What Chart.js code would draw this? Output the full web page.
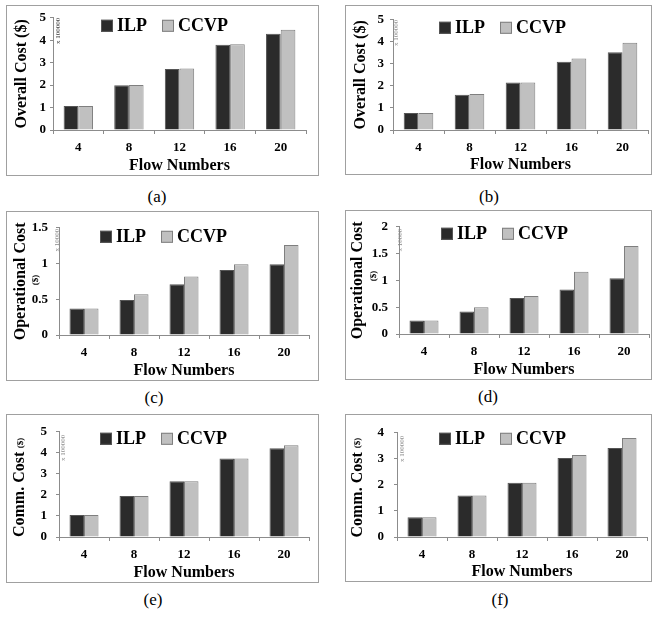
<!DOCTYPE html>
<html>
<head>
<meta charset="utf-8">
<title>Cost vs flow numbers</title>
<script src="https://cdn.jsdelivr.net/npm/chart.js@4.4.1/dist/chart.umd.min.js"></script>
<style>
  body { margin: 0; background: #fff; }
  .wrap { position: relative; width: 652px; height: 618px; overflow: hidden;
          font-family: "Liberation Serif", "Times New Roman", serif; }
  .frame { position: absolute; border: 1px solid #a0a0a0; box-sizing: border-box; }
  .frame canvas { position: absolute; left: 0; top: 0; }
  .cap { position: absolute; width: 60px; margin-left: -30px; margin-top: -10px;
         text-align: center; font-size: 17px; line-height: 20px; color: #000; }
</style>
</head>
<body>
<div class="wrap">
  <div class="frame" style="left:6px;top:5px;width:313px;height:171px"><canvas id="chartA" width="311" height="169"></canvas></div>
  <div class="frame" style="left:345px;top:5px;width:307px;height:170px"><canvas id="chartB" width="305" height="168"></canvas></div>
  <div class="frame" style="left:6px;top:211px;width:313px;height:170px"><canvas id="chartC" width="311" height="168"></canvas></div>
  <div class="frame" style="left:345px;top:210px;width:307px;height:170px"><canvas id="chartD" width="305" height="168"></canvas></div>
  <div class="frame" style="left:6px;top:414px;width:313px;height:169px"><canvas id="chartE" width="311" height="167"></canvas></div>
  <div class="frame" style="left:345px;top:414px;width:307px;height:168px"><canvas id="chartF" width="305" height="166"></canvas></div>

  <div class="cap" style="left:157px;top:197px">(a)</div>
  <div class="cap" style="left:489px;top:197px">(b)</div>
  <div class="cap" style="left:154px;top:398px">(c)</div>
  <div class="cap" style="left:488px;top:397px">(d)</div>
  <div class="cap" style="left:153px;top:600px">(e)</div>
  <div class="cap" style="left:500px;top:600px">(f)</div>
</div>

<script>
"use strict";

// data
var flowNumbers = ['4', '8', '12', '16', '20'];
var seriesNames = ['ILP', 'CCVP'];

var overallIlpA  = [1.07, 1.99, 2.72, 3.80, 4.29];
var overallCcvpA = [1.07, 2.01, 2.74, 3.82, 4.47];
var overallIlpB  = [0.77, 1.60, 2.15, 3.10, 3.53];
var overallCcvpB = [0.77, 1.63, 2.16, 3.24, 3.96];
var operIlpC     = [0.37, 0.49, 0.71, 0.91, 0.99];
var operCcvpC    = [0.37, 0.57, 0.82, 0.99, 1.26];
var operIlpD     = [0.25, 0.42, 0.67, 0.83, 1.04];
var operCcvpD    = [0.25, 0.50, 0.71, 1.16, 1.64];
var commIlpE     = [1.04, 1.95, 2.65, 3.73, 4.22];
var commCcvpE    = [1.04, 1.95, 2.65, 3.73, 4.36];
var commIlpF     = [0.76, 1.59, 2.08, 3.03, 3.42];
var commCcvpF    = [0.76, 1.59, 2.08, 3.15, 3.80];

var yMax  = [5, 5, 1.5, 2, 5, 4];
var yStep = [1, 1, 0.5, 0.5, 1, 1];
var yTitles = ['Overall Cost ($)', 'Overall Cost ($)', 'Operational Cost', 'Operational Cost', 'Comm. Cost', 'Comm. Cost'];
var unitNotes = ['', '', '($)', '($)', '($)', '($)'];
var multNotes = ['x 100000', 'x 100000', 'x 10000', 'x 10000', 'x 100000', 'x 100000'];
var xTitle = 'Flow Numbers';

// layout of each panel (canvas pixels)
// plot: [left, right, top, bottom]
var panels = [
  { id: 'chartA', ilp: overallIlpA, ccvp: overallCcvpA, plot: [46, 299, 11, 124], tickPad: 4,  titlePad: 5, spaces: 0, legend: [48, 8], mult: [5, 0], multColor: '#333', unit: null },
  { id: 'chartB', ilp: overallIlpB, ccvp: overallCcvpB, plot: [47, 302, 11, 124], tickPad: 6,  titlePad: 5, spaces: 0, legend: [46, 8], mult: [3, 0], multColor: '#8a8a8a', unit: null },
  { id: 'chartC', ilp: operIlpC,    ccvp: operCcvpC,    plot: [52, 302, 10, 123], tickPad: 8,  titlePad: 4, spaces: 0, legend: [41, 9], mult: [-2, 1], multColor: '#8a8a8a', unit: [29, 68] },
  { id: 'chartD', ilp: operIlpD,    ccvp: operCcvpD,    plot: [53, 303, 10, 123], tickPad: 8,  titlePad: 2, spaces: 0, legend: [42, 7], mult: [1, 2], multColor: '#8a8a8a', unit: [28, 65] },
  { id: 'chartE', ilp: commIlpE,    ccvp: commCcvpE,    plot: [52, 302, 10, 122], tickPad: 9,  titlePad: 3, spaces: 5, legend: [41, 7], mult: [4, 3], multColor: '#8a8a8a', unit: [14, 28] },
  { id: 'chartF', ilp: commIlpF,    ccvp: commCcvpF,    plot: [51, 301, 10, 122], tickPad: 10, titlePad: 2, spaces: 5, legend: [42, 6], mult: [5, 3], multColor: '#8a8a8a', unit: [12, 28] }
];

var serif = '"Liberation Serif", "Times New Roman", serif';
Chart.defaults.font.family = serif;
Chart.defaults.color = '#000';

// legend inside the plot, multiplier and small unit labels
var panelExtras = {
  id: 'panelExtras',
  afterDatasetsDraw: function (chart, args, opts) {
    var ctx = chart.ctx, area = chart.chartArea;
    ctx.save();

    // legend
    var x = area.left + opts.legend[0], cy = area.top + opts.legend[1];
    ctx.font = 'bold 18px ' + serif;
    ctx.textBaseline = 'middle';
    ctx.textAlign = 'left';
    chart.data.datasets.forEach(function (ds) {
      ctx.fillStyle = ds.backgroundColor;
      ctx.strokeStyle = ds.borderColor;
      ctx.lineWidth = 1;
      ctx.fillRect(x, cy - 6, 12, 12);
      ctx.strokeRect(x + 0.5, cy - 5.5, 11, 11);
      ctx.fillStyle = '#000';
      ctx.fillText(ds.label, x + 16, cy + 1);
      x += 16 + ctx.measureText(ds.label).width + 15;
    });

    // x 100000
    ctx.save();
    ctx.translate(area.left + opts.mult[0], area.top + opts.mult[1]);
    ctx.rotate(-Math.PI / 2);
    ctx.font = '7px ' + serif;
    ctx.fillStyle = opts.multColor;
    ctx.textAlign = 'right';
    ctx.fillText(opts.multText, 0, 0);
    ctx.restore();

    // small ($)
    if (opts.unit) {
      ctx.translate(opts.unit[0], opts.unit[1]);
      ctx.rotate(-Math.PI / 2);
      ctx.font = 'bold 9px ' + serif;
      ctx.fillStyle = '#000';
      ctx.textAlign = 'center';
      ctx.fillText(opts.unitText, 0, 0);
    }
    ctx.restore();
  }
};

function makeChart(p, i) {
  var canvas = document.getElementById(p.id);
  var W = canvas.width, H = canvas.height;
  var ctx = canvas.getContext('2d');

  return new Chart(ctx, {
    type: 'bar',
    data: {
      labels: flowNumbers,
      datasets: [{
        label: seriesNames[0],
        data: p.ilp,
        backgroundColor: '#2b2b2b',
        borderColor: '#555555',
        borderWidth: 1
      }, {
        label: seriesNames[1],
        data: p.ccvp,
        backgroundColor: '#c0c0c0',
        borderColor: '#7f7f7f',
        borderWidth: 1
      }]
    },
    options: {
      responsive: false,
      animation: false,
      events: [],
      layout: { padding: { left: 0, top: p.plot[2], right: W - p.plot[1], bottom: 0 } },
      datasets: { bar: { barPercentage: 1, categoryPercentage: 0.58 } },
      scales: {
        x: {
          afterFit: function (s) { s.height = H - p.plot[3]; },
          grid: { drawOnChartArea: false, tickLength: 4, color: '#8c8c8c' },
          border: { color: '#8c8c8c' },
          ticks: { padding: 6, font: { size: 13, weight: 'bold' } },
          title: { display: true, text: xTitle, padding: { top: 0, bottom: 0 },
                   font: { size: 16, weight: 'bold' } }
        },
        y: {
          min: 0,
          max: yMax[i],
          afterFit: function (s) { s.width = p.plot[0]; },
          grid: { drawOnChartArea: false, tickLength: 3, color: '#8c8c8c' },
          border: { color: '#8c8c8c' },
          ticks: {
            stepSize: yStep[i],
            padding: p.tickPad,
            font: { size: 13, weight: 'bold' },
            callback: function (v) { return String(v); }
          },
          title: { display: true, text: yTitles[i] + ' '.repeat(p.spaces),
                   padding: { top: p.titlePad, bottom: 0 },
                   font: { size: 16, weight: 'bold' } }
        }
      },
      plugins: {
        legend: { display: false },
        tooltip: { enabled: false },
        panelExtras: {
          legend: p.legend,
          mult: p.mult,
          multText: multNotes[i],
          multColor: p.multColor,
          unit: p.unit,
          unitText: unitNotes[i]
        }
      }
    },
    plugins: [panelExtras]
  });
}

panels.forEach(makeChart);
</script>
</body>
</html>
